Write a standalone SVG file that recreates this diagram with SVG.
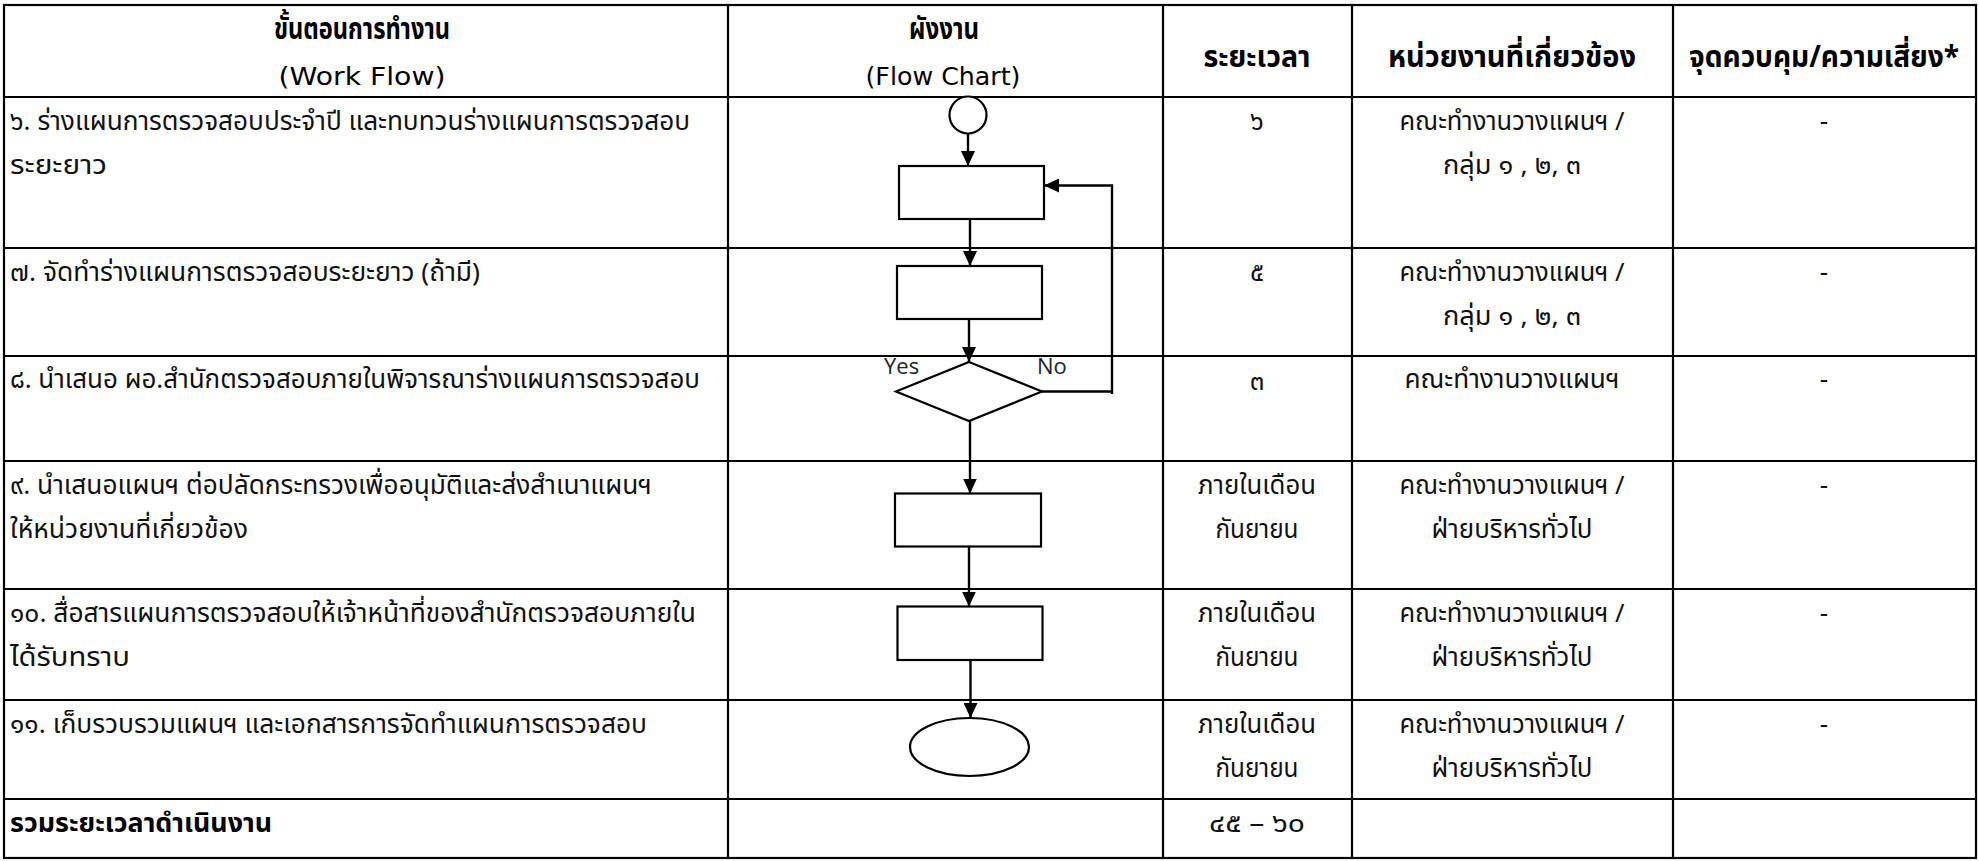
<svg xmlns="http://www.w3.org/2000/svg" width="1979" height="861" viewBox="0 0 1979 861">
<defs>
<marker id="arr" viewBox="0 0 15 14" refX="15" refY="7" markerWidth="15" markerHeight="14" markerUnits="userSpaceOnUse" orient="auto">
<path d="M0 0 L15 7 L0 14 Z" fill="#000"/>
</marker>
<style>
.grid{stroke:#000;stroke-width:2.2;fill:none}
.shape{fill:#fff;stroke:#000;stroke-width:2.2}
.conn{fill:none;stroke:#000;stroke-width:2.4}
.th{font-family:"Noto Sans Thai","Noto Sans","DejaVu Sans",sans-serif;font-size:26px;fill:#111}
.thb{font-family:"Noto Sans Thai","Noto Sans","DejaVu Sans",sans-serif;font-size:30px;font-weight:bold;fill:#000}
.thb2{font-family:"Noto Sans Thai","Noto Sans","DejaVu Sans",sans-serif;font-size:27px;font-weight:bold;fill:#000}
.en{font-family:"DejaVu Sans",sans-serif;font-size:25px;fill:#000}
.yn{font-family:"Open Sans",sans-serif;font-size:22px;fill:#222}
.c{text-anchor:middle}
</style>
</defs>
<rect width="1979" height="861" fill="#fff"/>
<g id="table">
<rect class="grid" x="4" y="5" width="1972" height="853"/>
<line class="grid" x1="4" y1="97" x2="1976" y2="97"/>
<line class="grid" x1="4" y1="248" x2="1976" y2="248"/>
<line class="grid" x1="4" y1="356" x2="1976" y2="356"/>
<line class="grid" x1="4" y1="461" x2="1976" y2="461"/>
<line class="grid" x1="4" y1="589" x2="1976" y2="589"/>
<line class="grid" x1="4" y1="700" x2="1976" y2="700"/>
<line class="grid" x1="4" y1="799" x2="1976" y2="799"/>
<line class="grid" x1="728" y1="5" x2="728" y2="858"/>
<line class="grid" x1="1163" y1="5" x2="1163" y2="858"/>
<line class="grid" x1="1352" y1="5" x2="1352" y2="858"/>
<line class="grid" x1="1673" y1="5" x2="1673" y2="858"/>
</g>
<g id="header">
<text class="thb c" x="362" y="39" textLength="176" lengthAdjust="spacingAndGlyphs">ขั้นตอนการทำงาน</text>
<text class="en c" x="362" y="85" textLength="167" lengthAdjust="spacingAndGlyphs">(Work Flow)</text>
<text class="thb c" x="944" y="39" textLength="70" lengthAdjust="spacingAndGlyphs">ผังงาน</text>
<text class="en c" x="943" y="85" textLength="155" lengthAdjust="spacingAndGlyphs">(Flow Chart)</text>
<text class="thb c" x="1257" y="67" textLength="107" lengthAdjust="spacingAndGlyphs">ระยะเวลา</text>
<text class="thb c" x="1512" y="67" textLength="248" lengthAdjust="spacingAndGlyphs">หน่วยงานที่เกี่ยวข้อง</text>
<text class="thb c" x="1824" y="67" textLength="270" lengthAdjust="spacingAndGlyphs">จุดควบคุม/ความเสี่ยง*</text>
</g>
<g id="row6">
<text class="th" x="10" y="130" textLength="680" lengthAdjust="spacingAndGlyphs">๖. ร่างแผนการตรวจสอบประจำปี และทบทวนร่างแผนการตรวจสอบ</text>
<text class="th" x="10" y="174" textLength="97" lengthAdjust="spacingAndGlyphs">ระยะยาว</text>
<text class="th c" x="1257" y="130">๖</text>
<text class="th c" x="1512" y="130" textLength="225" lengthAdjust="spacingAndGlyphs">คณะทำงานวางแผนฯ /</text>
<text class="th c" x="1512" y="174" textLength="138" lengthAdjust="spacingAndGlyphs">กลุ่ม ๑ , ๒, ๓</text>
<text class="th c" x="1824" y="130">-</text>
</g>
<g id="row7">
<text class="th" x="10" y="281" textLength="470" lengthAdjust="spacingAndGlyphs">๗. จัดทำร่างแผนการตรวจสอบระยะยาว (ถ้ามี)</text>
<text class="th c" x="1257" y="281">๕</text>
<text class="th c" x="1512" y="281" textLength="225" lengthAdjust="spacingAndGlyphs">คณะทำงานวางแผนฯ /</text>
<text class="th c" x="1512" y="325" textLength="138" lengthAdjust="spacingAndGlyphs">กลุ่ม ๑ , ๒, ๓</text>
<text class="th c" x="1824" y="281">-</text>
</g>
<g id="row8">
<text class="th" x="10" y="388" textLength="690" lengthAdjust="spacingAndGlyphs">๘. นำเสนอ ผอ.สำนักตรวจสอบภายในพิจารณาร่างแผนการตรวจสอบ</text>
<text class="th c" x="1257" y="390">๓</text>
<text class="th c" x="1512" y="388" textLength="215" lengthAdjust="spacingAndGlyphs">คณะทำงานวางแผนฯ</text>
<text class="th c" x="1824" y="388">-</text>
</g>
<g id="row9">
<text class="th" x="10" y="494" textLength="642" lengthAdjust="spacingAndGlyphs">๙. นำเสนอแผนฯ ต่อปลัดกระทรวงเพื่ออนุมัติและส่งสำเนาแผนฯ</text>
<text class="th" x="10" y="538" textLength="238" lengthAdjust="spacingAndGlyphs">ให้หน่วยงานที่เกี่ยวข้อง</text>
<text class="th c" x="1257" y="494" textLength="118" lengthAdjust="spacingAndGlyphs">ภายในเดือน</text>
<text class="th c" x="1257" y="538" textLength="83" lengthAdjust="spacingAndGlyphs">กันยายน</text>
<text class="th c" x="1512" y="494" textLength="225" lengthAdjust="spacingAndGlyphs">คณะทำงานวางแผนฯ /</text>
<text class="th c" x="1512" y="538" textLength="161" lengthAdjust="spacingAndGlyphs">ฝ่ายบริหารทั่วไป</text>
<text class="th c" x="1824" y="494">-</text>
</g>
<g id="row10">
<text class="th" x="10" y="622" textLength="686" lengthAdjust="spacingAndGlyphs">๑๐. สื่อสารแผนการตรวจสอบให้เจ้าหน้าที่ของสำนักตรวจสอบภายใน</text>
<text class="th" x="10" y="666" textLength="120" lengthAdjust="spacingAndGlyphs">ได้รับทราบ</text>
<text class="th c" x="1257" y="622" textLength="118" lengthAdjust="spacingAndGlyphs">ภายในเดือน</text>
<text class="th c" x="1257" y="666" textLength="83" lengthAdjust="spacingAndGlyphs">กันยายน</text>
<text class="th c" x="1512" y="622" textLength="225" lengthAdjust="spacingAndGlyphs">คณะทำงานวางแผนฯ /</text>
<text class="th c" x="1512" y="666" textLength="161" lengthAdjust="spacingAndGlyphs">ฝ่ายบริหารทั่วไป</text>
<text class="th c" x="1824" y="622">-</text>
</g>
<g id="row11">
<text class="th" x="10" y="733" textLength="637" lengthAdjust="spacingAndGlyphs">๑๑. เก็บรวบรวมแผนฯ และเอกสารการจัดทำแผนการตรวจสอบ</text>
<text class="th c" x="1257" y="733" textLength="118" lengthAdjust="spacingAndGlyphs">ภายในเดือน</text>
<text class="th c" x="1257" y="777" textLength="83" lengthAdjust="spacingAndGlyphs">กันยายน</text>
<text class="th c" x="1512" y="733" textLength="225" lengthAdjust="spacingAndGlyphs">คณะทำงานวางแผนฯ /</text>
<text class="th c" x="1512" y="777" textLength="161" lengthAdjust="spacingAndGlyphs">ฝ่ายบริหารทั่วไป</text>
<text class="th c" x="1824" y="733">-</text>
</g>
<g id="total">
<text class="thb2" x="10" y="832" textLength="262" lengthAdjust="spacingAndGlyphs">รวมระยะเวลาดำเนินงาน</text>
<text class="th c" x="1257" y="832" textLength="96" lengthAdjust="spacingAndGlyphs">๔๕ – ๖๐</text>
</g>
<g id="start"><circle class="shape" cx="968" cy="115" r="18.5"/></g>
<g id="step6"><rect class="shape" x="899" y="166" width="145" height="53"/></g>
<g id="step7"><rect class="shape" x="897" y="266" width="145" height="53"/></g>
<g id="decision8"><polygon class="shape" points="969,362 1042,391.5 969,421 896,391.5"/>
<text class="yn" x="884" y="374">Yes</text>
<text class="yn" x="1037" y="374">No</text></g>
<g id="step9"><rect class="shape" x="895" y="493.5" width="146" height="53"/></g>
<g id="step10"><rect class="shape" x="897.5" y="606.5" width="145" height="53.5"/></g>
<g id="end"><ellipse class="shape" cx="969.5" cy="747" rx="59.5" ry="29"/></g>
<g id="connectors">
<line class="conn" x1="968" y1="133.5" x2="968" y2="166" marker-end="url(#arr)"/>
<line class="conn" x1="970" y1="219" x2="970" y2="266" marker-end="url(#arr)"/>
<line class="conn" x1="969" y1="319" x2="969" y2="362" marker-end="url(#arr)"/>
<line class="conn" x1="970" y1="421" x2="970" y2="493.5" marker-end="url(#arr)"/>
<line class="conn" x1="969" y1="547" x2="969" y2="606.5" marker-end="url(#arr)"/>
<line class="conn" x1="970.5" y1="660" x2="970.5" y2="718" marker-end="url(#arr)"/>
<polyline class="conn" points="1042,391.5 1112,391.5"/>
<polyline class="conn" points="1112,394 1112,185.5 1044,185.5" marker-end="url(#arr)"/>
</g>
</svg>
